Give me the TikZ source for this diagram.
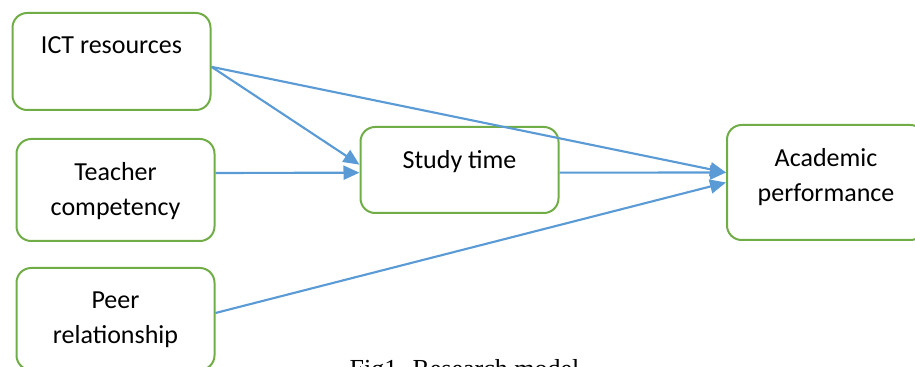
\documentclass[tikz,border=0pt]{standalone}
\usepackage{fontspec}
\setmainfont{Carlito}
\newfontfamily\capfont{Liberation Serif}
\usetikzlibrary{arrows.meta,positioning}
\definecolor{boxgreen}{RGB}{112,173,71}
\definecolor{linkblue}{RGB}{91,155,213}
\begin{document}
\begin{tikzpicture}[x=0.75pt,y=-0.75pt,line join=round,
	box/.style={draw=boxgreen,line width=1.5pt,rounded corners=11pt,minimum width=148.5pt,inner sep=0pt},
	txt/.style={anchor=north,align=center,inner sep=0pt,font=\fontsize{19.5}{26.25}\selectfont},
	link/.style={draw=linkblue,line width=1.6pt,-{Triangle[length=12pt,width=10.5pt]}}]
	\useasboundingbox (0,0) rectangle (915,367);
	\node[box,minimum height=72.75pt] (ict) at (111.5,61.5) {};
	\node[box,minimum height=76.5pt] (teach) at (115.5,190) {};
	\node[box,minimum height=76.5pt] (peer) at (115.5,319) {};
	\node[box,minimum height=64.5pt] (study) at (459.5,170) {};
	\node[box,minimum height=86.25pt] (acad) at (826,182.5) {};
	\node[txt] (ict-t) at ([yshift=-18.5pt]ict.north) {ICT resources};
	\node[txt] (teach-t) at ([yshift=-18.5pt]teach.north) {Teacher\\competency};
	\node[txt] (peer-t) at ([yshift=-18.5pt]peer.north) {Peer\\relationship};
	\node[txt] (study-t) at ([yshift=-18.5pt]study.north) {Study time};
	\node[txt] (acad-t) at ([yshift=-18.5pt]acad.north) {Academic\\performance};
	\draw[link] ([yshift=-4pt]ict.east) -- ([yshift=4pt]study.west);
	\draw[link] ([yshift=12.75pt]teach.east) -- ([yshift=-2pt]study.west);
	\draw[link] ([yshift=-4pt]ict.east) -- ([yshift=7.5pt]acad.west);
	\draw[link] ([yshift=-2pt]study.east) -- ([yshift=7.5pt]acad.west);
	\draw[link] ([yshift=4.5pt]peer.east) -- (acad.west);
	\node[font=\capfont\fontsize{19.5}{24}\selectfont,anchor=base] (cap) at (464.5,378) {Fig1. Research model};
\end{tikzpicture}
\end{document}
